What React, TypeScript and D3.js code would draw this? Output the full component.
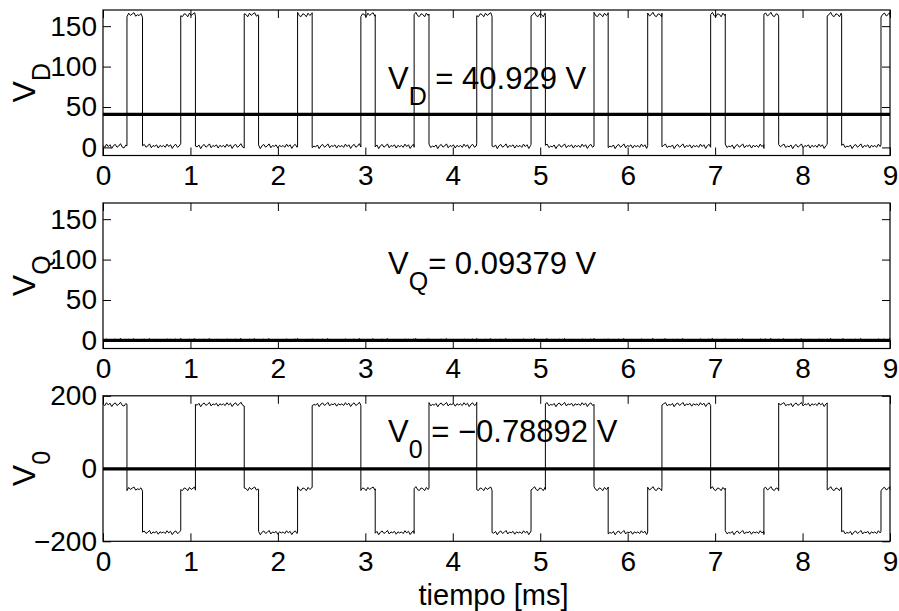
import * as d3 from "d3";
import { useEffect, useRef } from "react";

const width = 899,
  height = 611,
  marginLeft = 103,
  marginRight = 9,
  panelHeight = 145.5;
const panelTops = [10, 203, 395.8];
const font = "'Liberation Sans', Arial, Helvetica, sans-serif";

// switching instants (ms)
const edges = [
  0.274, 0.452, 0.889, 1.057, 1.615, 1.779, 2.225, 2.392, 2.949, 3.113, 3.558,
  3.728, 4.274, 4.449, 4.895, 5.059, 5.615, 5.777, 6.229, 6.392, 6.949, 7.116,
  7.558, 7.727, 8.282, 8.447, 8.897,
];
// level of each interval between edges
const vdLevels = [
  1.5, 164, 1.5, 164, 1.5, 164, 1.5, 164, 1.5, 164, 1.5, 164, 1.5, 164, 1.5,
  164, 1.5, 164, 1.5, 164, 1.5, 164, 1.5, 164, 1.5, 164, 1.5, 164,
];
const vqLevels = [
  0.3, 0.3, 0.3, 0.3, 0.3, 0.3, 0.3, 0.3, 0.3, 0.3, 0.3, 0.3, 0.3, 0.3, 0.3,
  0.3, 0.3, 0.3, 0.3, 0.3, 0.3, 0.3, 0.3, 0.3, 0.3, 0.3, 0.3, 0.3,
];
const v0Levels = [
  176, -56, -176, -56, 176, -56, -176, -56, 176, -56, -176, -56, 176, -56, -176,
  -56, 176, -56, -176, -56, 176, -56, -176, -56, 176, -56, -176, -56,
];
// hand-typed measurement ripple
const ripple = [
  0.8, -1.2, 2.1, -0.4, 1.5, -2.3, 0.6, 1.9, -1.1, 0.2, 2.6, -0.9, -1.8, 1.1,
  0.4, -2.0, 1.7, -0.6, 0.9, 2.2, -1.4, 0.1, -0.7, 1.3, -2.5, 0.5, 1.8, -1.0,
  0.3, 2.4, -1.6, 0.7, -0.2, 1.4, -1.9, 0.9, -0.5,
];
const means = [40.929, 0.09379, -0.78892];
const xTicks = [0, 1, 2, 3, 4, 5, 6, 7, 8, 9];
const yTicksTop = [0, 50, 100, 150];
const yTicksBottom = [-200, 0, 200];

function series(levels: number[], gain: number) {
  const bounds = [0, ...edges, 9];
  const pts: [number, number][] = [];
  let k = 0;
  levels.forEach((lv, i) => {
    const t0 = bounds[i],
      t1 = bounds[i + 1];
    for (let t = t0; t < t1; t += 0.02) {
      pts.push([t, lv + ripple[k++ % ripple.length] * gain]);
    }
    pts.push([t1, lv + ripple[k++ % ripple.length] * gain]);
  });
  return pts;
}

const panels = [
  { sub: "D", eq: " = 40.929 V", data: series(vdLevels, 1.2), domain: [-10, 170], ticks: yTicksTop, textY: 89 },
  { sub: "Q", eq: "= 0.09379 V", data: series(vqLevels, 0.8), domain: [-10, 170], ticks: yTicksTop, textY: 274 },
  { sub: "0", eq: " = \u22120.78892 V", data: series(v0Levels, 2.4), domain: [-200, 200], ticks: yTicksBottom, textY: 442 },
];

export default function App() {
  const ref = useRef<SVGSVGElement | null>(null);

  useEffect(() => {
    if (!ref.current) return;
    const svg = d3.select(ref.current);
    svg.selectAll("*").remove();

    const x = d3.scaleLinear([0, 9], [marginLeft, width - marginRight]);

    panels.forEach((p, i) => {
      const top = panelTops[i];
      const bottom = top + panelHeight;
      const y = d3.scaleLinear(p.domain, [bottom, top]);
      const g = svg.append("g");

      const line = d3
        .line<[number, number]>()
        .x((d) => x(d[0]))
        .y((d) => y(d[1]));

      g.append("path")
        .attr("fill", "none")
        .attr("stroke", "#000")
        .attr("stroke-width", 1)
        .attr("d", line(p.data));

      // mean value
      g.append("line")
        .attr("x1", x(0))
        .attr("x2", x(9))
        .attr("y1", y(means[i]))
        .attr("y2", y(means[i]))
        .attr("stroke", "#000")
        .attr("stroke-width", 3.2);

      // axes, ticks inward on all sides
      const style = (a: d3.Selection<SVGGElement, unknown, null, undefined>) => {
        a.select(".domain").remove();
        a.attr("font-size", 28).attr("font-family", font);
        a.selectAll("text").attr("fill", "#000");
        a.selectAll("line").attr("stroke", "#000");
      };
      g.append("g")
        .attr("transform", `translate(0,${bottom})`)
        .call(d3.axisBottom(x).tickValues(xTicks).tickSize(-8).tickSizeOuter(0).tickPadding(10).tickFormat(d3.format("d")))
        .call(style);
      g.append("g")
        .attr("transform", `translate(0,${top})`)
        .call(d3.axisTop(x).tickValues(xTicks).tickSize(-8).tickSizeOuter(0).tickFormat(() => ""))
        .call(style);
      g.append("g")
        .attr("transform", `translate(${x(0)},0)`)
        .call(d3.axisLeft(y).tickValues(p.ticks).tickSize(-8).tickSizeOuter(0).tickPadding(6).tickFormat(d3.format("d")))
        .call(style);
      g.append("g")
        .attr("transform", `translate(${x(9)},0)`)
        .call(d3.axisRight(y).tickValues(p.ticks).tickSize(-8).tickSizeOuter(0).tickFormat(() => ""))
        .call(style);

      g.append("rect")
        .attr("x", x(0))
        .attr("y", top)
        .attr("width", x(9) - x(0))
        .attr("height", panelHeight)
        .attr("fill", "none")
        .attr("stroke", "#000")
        .attr("stroke-width", 1.2);

      // annotation
      const t = g
        .append("text")
        .attr("x", 388)
        .attr("y", p.textY)
        .attr("font-family", font)
        .attr("font-size", 31);
      t.append("tspan").text("V");
      t.append("tspan").attr("dy", 16).attr("font-size", 25).text(p.sub);
      t.append("tspan").attr("dy", -16).text(p.eq);

      // y label
      const yl = g
        .append("text")
        .attr("transform", `translate(35,${(top + bottom) / 2}) rotate(-90)`)
        .attr("text-anchor", "middle")
        .attr("font-family", font)
        .attr("font-size", 32);
      yl.append("tspan").text("V");
      yl.append("tspan").attr("dy", 15).attr("font-size", 25).text(p.sub);
    });

    svg
      .append("text")
      .attr("x", (x(0) + x(9)) / 2 - 3)
      .attr("y", 605)
      .attr("text-anchor", "middle")
      .attr("font-family", font)
      .attr("font-size", 29)
      .text("tiempo [ms]");
  }, []);

  return (
    <svg
      ref={ref}
      width={width}
      height={height}
      style={{ position: "absolute", left: 0, top: 0, background: "#fff" }}
    />
  );
}
